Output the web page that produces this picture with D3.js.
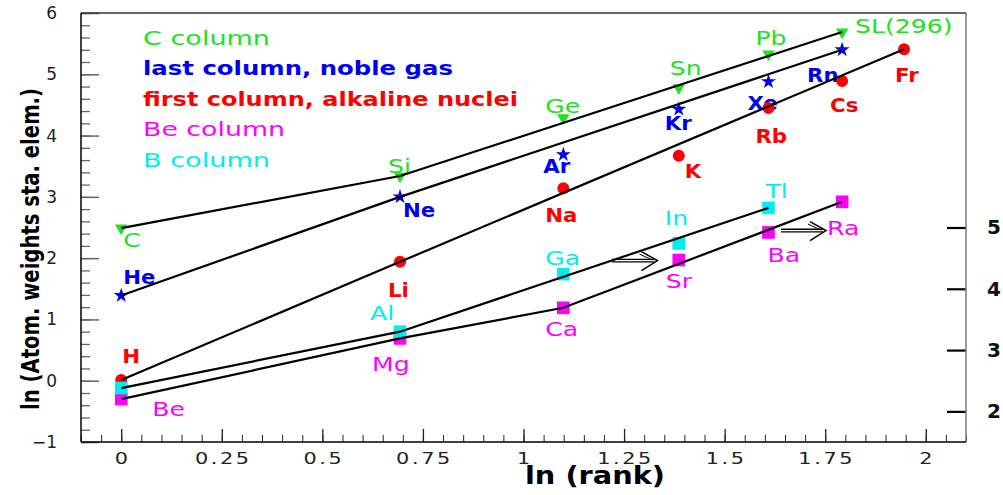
<!DOCTYPE html>
<html>
<head>
<meta charset="utf-8">
<script src="https://cdn.jsdelivr.net/npm/d3@7/dist/d3.min.js"></script>
<style>
body { margin: 0; background: #fff; }
text { font-family: "DejaVu Sans", sans-serif; }
</style>
</head>
<body>
<div id="chart"></div>
<script>
// ln(rank) of an element inside its column of the table
var lnRank = [0, 0.693, 1.099, 1.386, 1.609, 1.792, 1.946];

// C column (left axis)
var cNames = ['C', 'Si', 'Ge', 'Sn', 'Pb', 'SL(296)'];
var cVals = [2.49, 3.34, 4.29, 4.78, 5.33, 5.69];
// last column, noble gas (left axis)
var nobleNames = ['He', 'Ne', 'Ar', 'Kr', 'Xe', 'Rn'];
var nobleVals = [1.39, 3.00, 3.69, 4.43, 4.88, 5.40];
// first column, alkaline (left axis)
var alkNames = ['H', 'Li', 'Na', 'K', 'Rb', 'Cs', 'Fr'];
var alkVals = [0.01, 1.94, 3.14, 3.67, 4.45, 4.89, 5.41];
// Be column (right axis)
var beNames = ['Be', 'Mg', 'Ca', 'Sr', 'Ba', 'Ra'];
var beVals = [2.20, 3.19, 3.69, 4.47, 4.92, 5.42];
// B column (right axis)
var bNames = ['B', 'Al', 'Ga', 'In', 'Tl'];
var bVals = [2.38, 3.30, 4.24, 4.74, 5.32];

// points joined by the black lines (index in each column)
var cLine = [0, 1, 5];
var nobleLine = [0, 1, 5];
var alkLine = [0, 1, 6];
var beLine = [0, 1, 2, 5];
var bLine = [0, 1, 4];

var legendText = ['C column', 'last column, noble gas', 'first column, alkaline nuclei', 'Be column', 'B column'];

var xTicks = [0, 0.25, 0.5, 0.75, 1, 1.25, 1.5, 1.75, 2];
var yTicks = [-1, 0, 1, 2, 3, 4, 5, 6];
var yRightTicks = [2, 3, 4, 5];

// arrows (x from, x to, right axis value)
var arrowFrom = [1.22, 1.64];
var arrowTo = [1.333, 1.752];
var arrowAt = [4.46, 4.95];

var w = 1003;
var h = 495;
var svg = d3.select('#chart')
	.append('svg')
	.attr('width', w)
	.attr('height', h);

var x = d3.scaleLinear().domain([-0.1, 2.1]).range([81, 966]);
var yL = d3.scaleLinear().domain([-1, 6]).range([442, 13]);
var yR = d3.scaleLinear().domain([1.5, 8.5]).range([442, 13]);

var series = [
	{names: cNames, vals: cVals, y: yL, color: '#22e022', shape: 'tri', bold: false, line: cLine},
	{names: nobleNames, vals: nobleVals, y: yL, color: '#0000f0', shape: 'star', bold: true, line: nobleLine},
	{names: alkNames, vals: alkVals, y: yL, color: '#ff0000', shape: 'circle', bold: true, line: alkLine},
	{names: beNames, vals: beVals, y: yR, color: '#ff00ff', shape: 'square', bold: false, line: beLine},
	{names: bNames, vals: bVals, y: yR, color: '#00eeee', shape: 'square', bold: false, line: bLine}
];

// label offset from the marker: [dx, baseline dy]
var labelOff = {
	'C': [2, 19], 'Si': [-12, -3], 'Ge': [-18, -5], 'Sn': [-9, -13], 'Pb': [-13, -9], 'SL(296)': [13, 1],
	'He': [2, -12], 'Ne': [3, 20], 'Ar': [-20, 18], 'Kr': [-14, 21], 'Xe': [-21, 28], 'Rn': [-35, 32],
	'H': [1, -17], 'Li': [-12, 35], 'Na': [-18, 34], 'K': [6, 22], 'Rb': [-13, 35], 'Cs': [-12, 31], 'Fr': [-9, 33],
	'Be': [31, 17], 'Mg': [-28, 33], 'Ca': [-18, 28], 'Sr': [-13, 28], 'Ba': [-1, 30], 'Ra': [-15, 33],
	'Al': [-30, -12], 'Ga': [-18, -9], 'In': [-14, -18], 'Tl': [-3, -10]
};

var legendLen = [127, 310, 375, 142, 127];

// stretch text sideways, the original font is a wide one
function widen(sel, k) {
	sel.each(function(){
		var n = this.getComputedTextLength();
		d3.select(this).attr('textLength', n*k).attr('lengthAdjust', 'spacingAndGlyphs');
	});
}

// minor ticks
svg.append('g')
	.attr('transform', 'translate(0,442)')
	.call(d3.axisBottom(x).tickValues(d3.range(-2, 43).map(function(i){ return i*0.05; })).tickSize(-7).tickFormat(''))
	.call(function(g){ g.select('.domain').remove(); g.selectAll('line').attr('stroke', '#222'); });
svg.append('g')
	.attr('transform', 'translate(81,0)')
	.call(d3.axisLeft(yL).tickValues(d3.range(-5, 31).map(function(i){ return i*0.2; })).tickSize(-9).tickFormat(''))
	.call(function(g){ g.select('.domain').remove(); g.selectAll('line').attr('stroke', '#666').attr('stroke-width', 1.3); });

// major ticks + labels
var gx = svg.append('g')
	.attr('transform', 'translate(0,442)')
	.call(d3.axisBottom(x).tickValues(xTicks).tickSize(-13).tickPadding(11).tickFormat(d3.format('~g')));
gx.select('.domain').remove();
gx.selectAll('line').attr('stroke', '#222').attr('stroke-width', 1.3);
gx.selectAll('text')
	.style('font-family', '"DejaVu Sans", sans-serif')
	.style('font-size', '16px')
	.style('letter-spacing', '2px')
	.attr('dx', '1')
	.attr('fill', '#222')
	.call(widen, 1.3);

var gy = svg.append('g')
	.attr('transform', 'translate(81,0)')
	.call(d3.axisLeft(yL).tickValues(yTicks).tickSize(-18).tickPadding(24).tickFormat(d3.format('d')));
gy.select('.domain').remove();
gy.selectAll('line').attr('stroke', '#666').attr('stroke-width', 1.5);
gy.selectAll('text')
	.style('font-family', '"DejaVu Sans", sans-serif')
	.style('font-size', '17px')
	.attr('fill', '#222');

var gr = svg.append('g')
	.attr('transform', 'translate(966,0)')
	.call(d3.axisRight(yR).tickValues(yRightTicks).tickSize(-19).tickPadding(21).tickFormat(d3.format('d')));
gr.select('.domain').remove();
gr.selectAll('line').attr('stroke', '#000').attr('stroke-width', 2.2);
gr.selectAll('text')
	.style('font-family', '"DejaVu Sans", sans-serif')
	.style('font-size', '20px')
	.style('font-weight', 'bold')
	.attr('fill', '#111');

// frame
svg.append('line').attr('x1', 81).attr('x2', 966).attr('y1', 13).attr('y2', 13).attr('stroke', '#333').attr('stroke-width', 1.3);
svg.append('line').attr('x1', 966).attr('x2', 966).attr('y1', 13).attr('y2', 442).attr('stroke', '#777').attr('stroke-width', 1.5);
svg.append('line').attr('x1', 81).attr('x2', 81).attr('y1', 13).attr('y2', 442).attr('stroke', '#000').attr('stroke-width', 1.5);
svg.append('line').attr('x1', 81).attr('x2', 966).attr('y1', 442).attr('y2', 442).attr('stroke', '#000').attr('stroke-width', 1.5);

// axis titles
svg.append('text')
	.attr('transform', 'translate(39,410) rotate(-90)')
	.attr('textLength', 322)
	.attr('lengthAdjust', 'spacingAndGlyphs')
	.style('font-size', '25px')
	.style('font-weight', 'bold')
	.text('ln (Atom. weights sta. elem.)');
svg.append('text')
	.attr('x', 525)
	.attr('y', 484)
	.attr('textLength', 140)
	.attr('lengthAdjust', 'spacingAndGlyphs')
	.style('font-size', '25px')
	.style('font-weight', 'bold')
	.text('ln (rank)');

// legend
svg.selectAll('.legend')
	.data(legendText)
	.enter()
	.append('text')
	.attr('class', 'legend')
	.attr('x', 143)
	.attr('y', function(d, i){ return 45 + i*30.4; })
	.attr('textLength', function(d, i){ return legendLen[i]; })
	.attr('lengthAdjust', 'spacingAndGlyphs')
	.attr('fill', function(d, i){ return series[i].color; })
	.style('font-size', '19px')
	.style('font-weight', function(d, i){ return series[i].bold ? 'bold' : 'normal'; })
	.text(function(d){ return d; });

var symbols = {
	tri: d3.symbol(d3.symbolTriangle, 68),
	star: d3.symbol(d3.symbolStar, 70),
	circle: d3.symbol(d3.symbolCircle, 113),
	square: d3.symbol(d3.symbolSquare, 160)
};

var line = d3.line();

series.forEach(function(s){
	var pts = s.vals.map(function(v, i){ return [x(lnRank[i]), s.y(v)]; });

	// labels
	svg.selectAll(null)
		.data(s.names.filter(function(d){ return labelOff[d]; }))
		.enter()
		.append('text')
		.attr('x', function(d){ return pts[s.names.indexOf(d)][0] + labelOff[d][0]; })
		.attr('y', function(d){ return pts[s.names.indexOf(d)][1] + labelOff[d][1]; })
		.attr('fill', s.color)
		.style('font-size', '19px')
		.style('font-weight', s.bold ? 'bold' : 'normal')
		.text(function(d){ return d; })
		.call(widen, s.bold ? 1.12 : 1.32);

	// markers
	svg.selectAll(null)
		.data(pts)
		.enter()
		.append('path')
		.attr('d', symbols[s.shape])
		.attr('transform', function(d){
			return 'translate(' + d[0] + ',' + d[1] + ')' + (s.shape == 'tri' ? ' rotate(180)' : '');
		})
		.attr('fill', s.color);

	s.pts = pts;
});

// black lines on top of markers
series.forEach(function(s){
	svg.append('path')
		.attr('d', line(s.line.map(function(i){ return s.pts[i]; })))
		.attr('fill', 'none')
		.attr('stroke', '#000')
		.attr('stroke-width', 2.2);
});

// double arrows
arrowAt.forEach(function(v, i){
	var x0 = x(arrowFrom[i]), x1 = x(arrowTo[i]), yy = yR(v);
	var g = svg.append('g').attr('stroke', '#000').attr('fill', 'none');
	g.append('line').attr('x1', x0).attr('x2', x1 - 3).attr('y1', yy - 1.3).attr('y2', yy - 1.3).attr('stroke-width', 1.3);
	g.append('line').attr('x1', x0).attr('x2', x1 - 3).attr('y1', yy + 1.3).attr('y2', yy + 1.3).attr('stroke-width', 1.3);
	g.append('path').attr('d', 'M' + (x1 - 16) + ',' + (yy - 9) + 'L' + x1 + ',' + yy + 'L' + (x1 - 16) + ',' + (yy + 10)).attr('stroke-width', 1.5);
	g.append('path').attr('d', 'M' + (x1 - 18) + ',' + (yy - 6.5) + 'L' + (x1 - 5) + ',' + (yy - 0.5)).attr('stroke-width', 1);
});
</script>
</body>
</html>
